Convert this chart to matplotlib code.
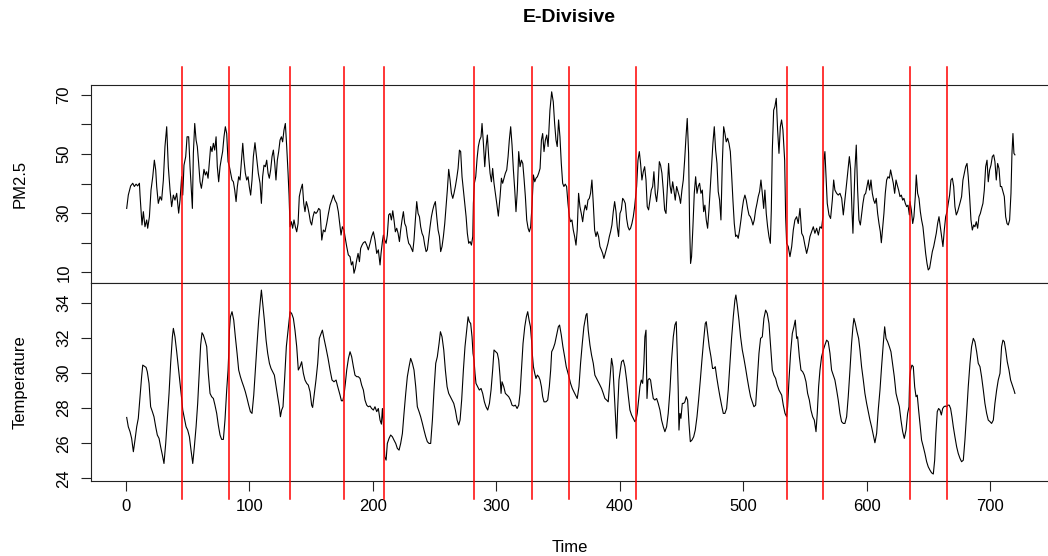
import matplotlib
matplotlib.use("Agg")
import matplotlib.pyplot as plt
import matplotlib.transforms as mtransforms
from matplotlib.lines import Line2D

# PM2.5 readings (time, value)
pm_a = [(0.8,31.6),(2.1,36.1),(4.0,39.2),(5.7,40.1),(7.0,39.0),(8.4,39.8),(9.7,39.2),(11.1,40.1),(11.6,36.1),(12.4,31.1),
        (13.2,26.0),(14.3,30.5),(15.6,25.4),(17.0,27.7),(17.8,24.9),(19.2,28.8),(20.5,37.8),(21.9,42.3),(23.2,47.9),(24.3,44.6),
        (25.1,39.0),(26.4,33.3),(27.8,35.6),(29.1,34.4),(30.5,41.2),(31.8,52.5),(33.2,59.2),(34.5,45.7),(35.9,37.8),(37.2,32.2),
        (38.6,36.1),(39.9,34.4),(41.3,36.7),(42.9,30.0),(44.0,34.4),(45.3,42.3),(46.2,36.1),(47.2,46.2),(48.6,49.1),(49.7,55.8),
        (51.0,55.8),(52.1,45.7),(53.2,37.8),(54.0,31.6),(54.8,50.2),(55.9,60.3),(57.0,54.7),(58.0,52.5),(59.1,46.8),(60.2,40.6),
        (61.3,38.4),(62.3,41.2),(63.4,44.8),(64.5,42.9),(65.6,44.0),(66.7,41.8),(67.8,47.4),(68.8,52.5),(69.9,50.8),(71.0,53.6),
        (72.1,51.3),(73.2,55.8),(74.2,45.7),(75.3,40.6),(76.4,45.7),(77.5,48.5),(78.5,50.8),(79.6,55.8),(80.7,59.2),(81.8,56.9),
        (82.9,47.4),(84.0,45.7),(85.0,43.5),(86.1,41.2),(87.2,40.6),(88.3,37.8),(89.4,33.9),(90.4,38.9),(91.5,42.3),(92.6,41.2),
        (93.7,47.4),(94.8,53.6),(95.8,47.9),(96.9,43.5),(98.0,41.2),(99.1,42.3),(100.1,38.9),(101.2,36.1),(102.3,41.2),(103.4,49.1),
        (104.7,53.8),(106.1,48.5),(107.4,43.5),(108.8,40.1),(109.9,33.3),(110.9,42.3),(112.0,46.2),(113.1,45.7),(114.2,47.9),(115.3,43.5),
        (116.3,41.8),(117.4,44.6),(118.5,49.1),(119.6,51.3),(120.7,46.8),(121.7,41.2),(122.8,47.9),(123.9,50.8),(125.0,54.7),(126.1,55.8),
        (127.1,54.1),(128.2,58.1),(129.3,60.3),(130.4,52.5),(131.5,43.5),(132.3,36.1),(133.1,25.4),(134.2,27.1),(135.2,24.9),(136.3,27.7),
        (137.4,25.4),(138.5,23.7),(139.6,26.5),(140.6,35.6),(141.7,37.8),(143.1,39.8),(144.2,33.3),(145.2,30.5),(146.3,33.9),(147.4,32.2),
        (148.5,29.9),(149.6,27.1),(150.6,26.0),(151.7,28.8),(152.8,30.5),(154.1,29.9),(155.2,30.5),(156.3,31.6)]
pm_b = [(157.4,31.1),(158.8,20.9),(160.1,24.3),(161.4,23.7),(162.8,26.5),(164.2,29.9),(165.5,32.7),(166.9,34.4),(168.2,36.1),(169.5,34.4),
        (170.9,33.3),(172.2,30.5),(173.6,25.4),(174.4,22.6),(175.5,25.4),(176.8,24.3),(177.6,22.1),(179.0,18.7),(180.3,15.9),(181.7,15.3),
        (182.8,12.5),(183.9,13.6),(184.9,9.7),(186.0,11.4),(187.1,14.2),(188.2,16.4),(189.3,13.6),(190.3,18.1),(191.4,19.2),(192.5,20.0),
        (193.9,20.4),(195.2,19.2),(196.5,17.6),(197.9,19.8),(199.2,22.1),(200.6,23.7),(201.9,20.9),(203.3,16.4),(204.6,17.6),(206.0,12.5),
        (206.8,16.4),(207.9,20.4),(208.7,22.6),(209.8,20.9),(210.9,19.8),(211.9,22.6),(213.0,29.4),(214.1,29.9),(215.2,27.7),(216.3,30.8),
        (217.3,27.7),(218.4,23.7),(219.5,24.9),(220.6,23.2),(221.7,20.4),(222.7,24.3),(223.8,27.7),(224.9,30.5),(226.0,26.5),(227.1,25.4),
        (228.1,22.1),(229.2,19.8),(230.3,19.2),(231.4,18.1),(232.5,17.0),(233.5,20.9),(234.6,27.7),(235.7,33.9),(236.8,29.9),(237.9,28.8),
        (238.9,25.4),(240.0,23.2),(241.1,22.1),(242.2,19.2),(243.3,17.0),(244.3,17.6),(245.4,21.5),(246.5,25.4),(247.6,28.8),(248.7,31.1),
        (249.7,32.7),(250.8,33.9),(251.9,28.8),(253.0,24.3),(254.1,22.1),(255.1,17.0),(256.2,18.7),(257.3,22.1),(258.4,26.5),(259.5,32.2),
        (260.5,37.8),(261.6,44.8),(262.7,41.2),(263.8,36.7),(264.9,35.0),(265.9,36.7),(267.0,39.0),(268.1,41.8),(269.2,45.1),(270.3,51.3),
        (271.3,50.8),(272.4,42.3),(273.5,37.8),(274.6,33.3),(275.7,28.8),(276.7,23.2),(277.8,19.8),(278.9,20.4),(280.0,19.2),(281.1,22.1),
        (281.6,33.3),(282.4,40.1),(283.5,42.3),(284.6,48.5),(285.6,52.5),(286.7,54.7),(287.8,55.8),(288.6,60.3),(289.7,53.6),(290.8,45.7),
        (291.9,52.5),(292.9,56.4),(294.0,49.1),(295.1,43.5),(296.2,40.6),(297.2,45.1),(298.3,40.1),(299.4,36.7),(300.5,33.3),(301.8,29.0),
        (303.2,35.6),(304.3,41.8),(305.3,40.1),(306.4,41.8),(307.5,43.5),(308.6,44.6),(309.7,49.1),(310.7,54.7),(311.8,59.2),(312.9,53.0),
        (314.0,44.6),(315.1,37.8),(316.1,30.5),(317.2,37.8),(318.3,50.8),(319.4,45.7),(320.5,47.9),(321.6,46.8),(322.6,41.8),(323.7,35.6),
        (324.8,27.7),(325.9,24.9),(326.9,23.7),(328.0,25.4),(329.1,32.7),(330.2,42.9),(331.3,40.6),(332.3,41.8),(333.4,42.3),(334.5,43.5),
        (335.6,45.1),(336.7,54.7),(337.7,56.9),(338.8,50.8),(339.9,54.7),(341.0,56.4),(342.1,52.5)]
pm_c = [(343.6,64.8),(345.0,71.0),(346.3,67.6),(347.4,60.3),(348.5,54.7),(349.5,52.5),(350.6,61.5),(351.7,55.8),(352.8,46.8),(353.9,40.1),
        (354.9,39.0),(356.0,39.8),(357.1,39.0),(358.2,33.3),(359.3,28.8),(360.3,27.1),(361.4,27.7),(362.5,24.3),(363.6,22.1),(364.7,19.2),
        (365.7,24.3),(366.8,36.7),(367.9,32.2),(369.0,29.9),(370.1,27.1),(371.1,30.5),(372.2,32.7),(373.3,31.1),(374.4,34.4),(375.5,35.0),
        (376.5,36.7),(377.6,41.2),(378.7,33.3),(379.8,24.3),(380.9,22.1),(381.9,23.7),(383.0,22.1),(384.1,18.7),(385.2,17.6),(386.3,16.4),
        (387.3,14.7),(388.4,16.4),(389.5,18.1),(390.6,19.8),(391.7,22.1),(392.7,23.7),(393.8,26.0),(394.9,30.5),(396.0,33.9),(397.1,30.5),
        (398.1,25.4),(399.2,22.1),(400.3,29.9),(401.4,31.1),(402.5,35.0),(403.5,34.4),(404.6,33.3),(405.7,28.2),(406.8,25.4),(407.9,24.3),
        (408.9,24.9),(410.0,26.5),(411.1,28.8),(412.2,32.2),(413.0,35.6),(413.8,39.0),(414.9,47.9),(416.0,50.8),(417.0,46.8),(418.1,41.2),
        (419.2,44.0),(420.3,45.7),(421.4,41.2),(422.4,32.2),(423.5,31.1),(424.6,34.4),(425.7,37.8),(426.8,39.0),(427.8,44.0),(428.9,36.7),
        (430.0,33.9),(431.1,38.4),(432.2,47.4),(433.2,46.2),(434.3,43.5),(435.4,37.8),(436.5,31.1),(437.6,29.9),(438.6,37.8),(439.7,46.8),
        (440.8,39.5),(441.9,36.7),(443.0,40.6),(444.0,37.8),(445.1,34.4),(446.2,39.0),(447.3,37.3),(448.4,35.6),(449.4,33.3),(450.5,37.8),
        (451.6,41.2),(452.7,47.9),(453.8,55.8),(454.8,62.0),(455.9,50.2),(456.7,26.5),(457.5,13.0),(458.3,15.3),(459.4,25.4),(460.5,36.7),
        (461.6,42.3),(462.7,36.7),(463.7,39.0),(464.8,40.1),(465.9,36.7),(467.0,37.8),(468.1,30.5),(469.1,32.7),(470.2,27.7),(471.3,24.9),
        (472.4,31.1),(473.5,39.0),(474.5,46.8),(475.6,53.6),(476.7,59.2),(477.8,51.3),(478.9,46.8),(479.9,37.3),(481.0,34.4),(482.1,27.7),
        (483.2,46.8),(484.3,59.2),(485.3,57.0),(486.4,54.1),(487.5,55.3),(488.6,53.6),(489.7,50.8),(490.7,43.5),(491.8,34.4),(492.9,26.5),
        (494.0,22.1),(495.0,22.6),(496.1,21.5),(497.2,24.3),(498.3,27.7),(499.4,31.6),(500.4,34.4),(501.5,36.1),(502.6,34.4),(503.7,31.6),
        (504.8,29.4),(505.9,28.8),(506.9,27.7),(508.0,26.0),(509.1,27.7),(510.2,31.1),(511.3,33.3),(512.3,35.6),(513.4,37.3),(514.5,41.2),
        (515.6,36.7),(516.7,31.6),(517.7,37.8),(518.8,29.9),(519.9,25.4),(521.0,22.1),(522.1,19.8),(522.9,31.1),(523.7,51.3),(524.8,64.8),
        (525.8,66.0),(526.9,68.8),(528.0,58.1),(529.1,50.2),(530.2,59.2),(531.2,61.5),(532.3,58.1)]
pm_d = [(533.7,47.9),(534.5,28.8),(535.3,19.8),(536.6,18.7),(538.0,15.3),(539.4,18.7),(540.7,24.3),(542.0,27.7),(543.4,28.8),(544.7,26.5),
        (546.1,31.6),(547.5,23.2),(548.8,22.1),(550.1,19.2),(551.5,16.4),(552.8,18.7),(554.2,22.1),(555.5,23.7),(556.9,25.4),(558.2,23.2),
        (559.6,24.9),(561.0,22.6),(562.3,25.4),(563.6,24.9),(564.7,28.8),(565.5,47.9),(566.3,50.8),(567.2,42.3),(568.2,33.3),(569.6,29.4),
        (570.9,28.2),(572.3,34.4),(573.4,41.2),(574.4,37.8),(575.8,36.7),(577.1,36.1),(578.5,36.7),(579.9,35.0),(581.2,29.4),(582.5,34.4),
        (583.9,40.1),(585.0,44.6),(586.1,49.1),(587.1,45.1),(588.2,31.1),(589.0,23.2),(589.8,34.4),(590.6,44.6),(591.7,53.0),(592.8,37.8),
        (593.9,27.7),(595.0,26.0),(596.0,29.4),(597.1,33.3),(598.2,36.1),(599.3,36.7),(600.4,39.0),(601.4,41.2),(602.5,37.8),(603.6,41.2),
        (604.7,36.7),(605.8,34.4),(606.8,33.3),(607.9,35.0),(609.0,29.9),(610.1,26.5),(611.2,23.7),(612.0,20.0),(613.1,25.4),(614.1,29.9),
        (615.2,36.7),(616.3,41.2),(617.4,42.3),(618.5,41.8),(619.5,44.6),(620.6,42.3),(621.7,40.1),(622.8,36.7),(623.9,41.2),(624.9,39.5),
        (626.0,37.8),(627.1,35.6),(628.2,36.1),(629.3,34.4),(630.3,35.0),(631.4,33.3),(632.5,32.2),(633.6,32.7),(634.7,29.4),(635.2,33.9),
        (636.3,31.1),(637.4,26.5),(638.4,28.8),(639.5,35.6),(640.3,42.9),(641.4,36.7),(642.5,35.0),(643.6,30.5),(644.6,27.7),(645.7,25.4),
        (646.8,20.9),(647.9,16.4),(649.0,13.0),(650.0,10.8),(651.1,11.4),(652.2,14.2),(653.3,17.0),(654.4,18.7),(655.4,20.9),(656.5,23.2),
        (657.6,26.5),(658.7,28.8),(659.8,25.4),(660.8,22.1),(661.9,18.7),(663.0,24.3),(664.1,28.8),(665.2,30.5),(666.2,33.3),(667.3,36.1),
        (668.4,41.2),(669.5,41.8),(670.6,39.0),(671.6,32.2),(672.7,29.4),(673.8,30.5),(674.9,32.2),(676.0,33.9),(677.0,35.6),(678.1,41.2),
        (679.2,43.5),(680.3,45.7),(681.4,46.8),(682.4,42.3),(683.5,35.6),(684.6,27.7),(685.7,24.3),(686.8,26.0),(687.8,25.4),(688.9,27.1),
        (690.0,24.9),(691.1,28.8),(692.2,29.9),(693.2,31.6),(694.3,33.3),(695.4,37.8),(696.5,45.7),(697.6,47.9),(698.6,40.6),(699.7,44.6),
        (700.8,46.2),(701.9,49.1),(703.0,49.7),(704.0,47.4),(705.1,41.2),(706.2,46.8),(707.3,45.1),(708.4,39.0),(709.4,39.0),(710.5,37.3),
        (711.6,35.6),(712.7,28.8),(713.8,26.5),(714.8,26.0),(715.9,27.7),(717.0,36.7),(717.8,50.2),(718.6,56.9),(719.4,50.2),(720.2,49.7)]

# Temperature readings (time, value)
temp_a = [(0.8,27.47),(2.1,26.94),(3.5,26.66),(4.8,26.28),(6.2,25.52),(7.5,26.18),(8.9,26.94),(10.2,27.42),(11.6,28.65),(12.9,29.79),
          (13.8,30.45),(15.1,30.39),(16.5,30.32),(17.5,30.07),(18.9,29.41),(20.2,28.08),(21.6,27.80),(22.9,27.51),(24.3,26.94),(25.6,26.47),
          (27.0,26.28),(28.3,25.80),(29.7,25.33),(31.0,24.85),(32.4,25.99),(33.7,27.32),(35.1,28.84),(36.4,30.55),(37.8,32.06),(38.6,32.54),
          (39.9,32.06),(41.3,31.21),(42.6,30.36),(44.0,29.41),(45.3,28.55),(46.2,27.89),(47.5,27.42),(48.9,26.94),(50.2,26.75),(51.6,26.37),
          (52.9,25.61),(54.3,24.85),(55.6,25.80),(57.0,26.94),(58.3,28.27),(59.7,30.17),(60.7,31.59),(61.8,32.29),(62.9,32.16),(64.2,31.87),
          (65.6,31.50),(66.9,29.98),(68.3,28.84),(69.6,28.65),(71.0,28.55),(72.3,28.17),(73.7,27.70),(75.0,27.04),(76.4,26.47),(77.7,26.22),
          (79.1,26.22),(80.4,27.32),(81.8,29.03),(82.9,30.17),(83.4,31.02),(84.0,32.44),(84.8,33.20),(86.1,33.49),(87.5,33.01),(88.8,32.06),
          (90.2,31.12),(91.5,30.17),(92.9,29.79),(94.2,29.50),(95.6,29.22),(96.9,28.93),(98.3,28.55),(99.6,28.17),(101.0,27.80),(102.3,27.70),
          (103.7,28.74),(105.0,30.17),(106.4,31.68),(107.7,33.01),(109.1,34.15),(109.9,34.72),(111.0,33.96),(112.3,33.01),(113.7,31.87),(115.0,31.12),
          (116.4,30.55),(117.7,30.26),(119.1,30.07),(120.4,29.88),(121.8,29.22),(123.1,28.65),(124.4,28.08),(125.3,27.51),(126.3,27.89),(127.4,28.08),
          (128.8,29.79),(130.1,31.50),(131.5,32.44),(132.3,33.01),(133.1,33.49),(134.4,33.39),(135.8,33.11),(137.1,32.44),(138.5,31.50),(139.8,30.17),
          (141.2,30.36),(142.5,30.64),(143.9,29.98),(145.2,29.60),(146.6,29.41),(147.9,29.31),(149.3,28.93),(150.6,28.17),(151.4,28.04),(152.8,28.84),
          (154.1,29.60),(155.5,30.55),(156.8,31.97)]
temp_b = [(159.3,32.44),(160.6,31.97),(162.3,31.40),(163.9,30.83),(165.5,30.17),(167.1,29.60),(168.7,29.50),(170.4,29.60),(171.4,29.31),(172.5,29.03),
          (173.6,28.74),(174.7,28.42),(175.8,28.42),(176.8,28.74),(177.9,29.41),(179.0,30.17),(180.4,30.83),(181.7,31.21),(183.0,30.93),(184.4,30.36),
          (185.7,29.88),(187.1,29.79),(188.4,29.79),(189.8,29.69),(191.1,29.31),(192.5,29.03),(193.8,28.46),(195.2,28.17),(196.5,28.08),(197.9,28.12),
          (199.2,27.98),(200.6,27.89),(201.9,28.08),(203.3,27.80),(204.6,27.98),(206.0,27.32),(207.1,27.09),(207.9,27.98),(208.7,27.13),(209.8,25.23),
          (210.9,25.04),(211.9,25.99),(213.3,26.28),(214.6,26.47),(216.0,26.37),(217.3,26.18),(218.7,25.99),(220.0,25.71),(221.4,25.61),(222.7,25.99),
          (224.1,26.56),(225.4,27.70),(226.8,28.84),(228.1,29.79),(229.5,30.36),(230.8,30.83),(232.2,30.55),(233.5,30.17),(234.9,29.22),(236.2,28.08),
          (237.6,27.80),(238.9,27.51),(240.3,27.13),(241.6,26.75),(243.0,26.37),(244.3,26.09),(245.7,25.99),(247.0,25.99),(248.4,27.32),(249.7,29.03),
          (251.1,30.55),(252.4,30.93),(253.8,31.68),(254.9,32.35),(256.2,32.06),(257.6,31.31),(258.9,30.17),(260.3,29.22),(261.6,28.84),(263.0,28.65),
          (264.3,28.46),(265.7,28.27),(267.0,27.89),(268.4,27.32),(269.7,27.04),(270.8,27.32),(272.1,28.46),(273.5,30.17),(274.8,31.50),(276.2,32.44),
          (277.3,33.20),(278.3,32.92),(279.4,32.82),(280.5,32.06),(281.3,31.12),(282.1,30.74),(282.9,29.98),(283.7,29.41),(285.1,29.22),(286.4,29.03),
          (287.8,29.12),(289.1,28.84),(290.5,28.36),(291.8,28.08),(293.2,27.89),(294.6,28.27),(295.9,29.03),(297.2,30.17),(298.3,31.31),(299.7,31.21),
          (301.0,31.12),(302.1,30.74),(303.2,29.79),(304.0,28.84),(304.8,29.50),(306.2,29.22),(307.5,28.84),(308.9,28.74),(310.2,28.65),(311.6,28.46),
          (312.9,28.17),(314.3,28.12),(315.6,28.17),(317.0,27.98),(318.3,28.17),(319.4,28.84),(320.5,30.17),(321.8,31.68),(323.2,32.63),(324.5,33.20),
          (325.6,33.49),(326.7,33.01),(327.8,32.63),(328.8,31.78),(329.4,31.02),(330.2,30.36),(331.3,29.98),(332.3,29.69),(333.4,29.88),(334.5,29.79),
          (335.6,29.60),(336.7,29.22),(337.7,28.65),(338.8,28.36),(340.4,28.36),(341.8,28.46),(343.1,29.22),(344.2,30.17)]
temp_c = [(345.0,31.21),(346.3,31.40),(347.6,31.68),(349.0,32.16),(350.4,32.63),(351.4,32.73),(352.8,32.16),(354.1,31.50),(355.5,30.93),(356.8,30.36),
          (357.9,30.07),(359.0,29.79),(360.3,29.41),(361.7,29.12),(363.0,28.93),(364.4,28.74),(365.7,28.55),(367.1,29.22),(368.4,30.55),(369.8,31.68),
          (371.1,32.63),(372.8,33.30),(373.6,33.39),(374.6,32.44),(376.0,31.59),(377.3,31.02),(378.7,30.55),(380.0,29.88),(381.4,29.69),(382.7,29.50),
          (384.1,29.31),(385.4,29.12),(386.8,28.84),(388.1,28.55),(389.5,28.46),(390.8,28.36),(392.2,29.60),(393.5,30.83),(394.6,30.36),(395.7,28.84),
          (396.8,27.32),(397.6,26.28),(398.4,27.89),(399.5,29.60),(400.6,30.17),(401.6,30.64),(403.0,30.74),(404.3,30.36),(405.7,29.60),(407.0,28.74),
          (408.4,27.89),(409.7,27.61),(411.1,27.42),(412.4,27.23),(413.3,27.32),(414.3,27.70),(415.4,28.46),(416.5,29.22),(417.6,29.60),(418.7,29.41),
          (419.7,30.55),(420.5,32.06),(421.4,32.44),(422.2,28.55),(423.0,29.60),(424.1,29.69),(425.1,29.60),(426.2,29.03),(427.3,28.55),(428.6,28.46),
          (430.0,28.55),(431.3,28.27),(432.7,27.89),(434.0,27.32),(435.4,26.94),(436.7,26.66),(438.1,26.94),(439.4,27.70),(440.8,29.03),(442.1,30.74),
          (443.5,32.06),(444.8,32.73),(445.9,32.92),(446.7,31.12),(447.5,29.03),(448.1,26.75),(448.9,27.70),(449.7,27.42),(450.8,28.27),(451.9,28.27),
          (452.9,28.36),(454.0,28.65),(455.1,28.46),(456.2,27.13),(457.3,26.09),(458.6,26.18),(460.0,26.37),(461.3,26.75),(462.7,27.51),(464.0,28.46),
          (465.4,29.60),(466.7,30.74),(468.1,31.87),(469.4,32.82),(470.2,32.92),(471.3,32.25),(472.6,31.50),(474.0,30.93),(475.3,30.26),(476.4,30.26),
          (477.5,30.36),(478.6,29.79),(479.9,29.22),(481.3,28.65),(482.6,28.17),(484.0,27.70),(485.3,27.70),(486.7,27.98),(488.0,29.03),(489.4,30.55),
          (490.7,31.97),(492.1,33.20),(493.4,34.15),(494.2,34.44),(495.3,33.87),(496.7,33.01),(498.0,32.06),(499.4,31.31),(500.7,30.83),(502.1,30.26),
          (503.4,29.69),(504.8,29.12),(506.1,28.65),(507.5,28.36),(508.8,28.08),(510.2,28.17),(511.5,29.60),(512.9,31.12),(514.2,31.97),(515.6,32.06),
          (516.9,33.11),(518.3,33.58),(519.6,33.39),(521.0,32.82),(522.3,31.50),(523.7,30.17),(525.0,29.88),(526.4,29.69),(527.7,29.31),(529.1,29.03)]
temp_d = [(531.3,28.74),(532.6,28.17),(534.0,27.70),(535.3,27.51),(536.1,28.08),(537.2,29.60),(538.5,31.12),(539.9,32.25),(541.2,32.63),(542.3,33.01),
          (543.4,31.97),(544.2,32.06),(545.6,30.93),(546.9,30.17),(548.3,30.07),(549.6,29.88),(551.0,29.50),(552.3,28.84),(553.7,28.46),(555.0,27.89),
          (556.4,27.51),(557.7,27.32),(559.1,26.66),(560.1,27.70),(561.2,29.22),(562.3,30.17),(563.6,30.93),(565.0,31.31),(566.3,31.59),(567.7,31.87),
          (569.0,31.78),(570.4,31.12),(571.7,30.17),(573.1,29.88),(574.4,29.60),(575.8,29.03),(577.1,28.46),(578.5,27.70),(579.8,27.23),(581.2,27.13),
          (582.5,27.13),(583.9,27.51),(585.2,28.65),(586.6,30.17),(587.9,31.68),(589.0,32.63),(589.8,33.11),(590.9,32.82),(592.3,32.35),(593.6,31.97),
          (594.7,31.31),(596.0,30.36),(597.4,29.60),(598.7,28.84),(600.1,28.27),(601.4,27.80),(602.8,27.32),(604.1,26.94),(605.5,26.47),(606.8,26.03),
          (608.2,26.56),(609.5,27.89),(610.9,29.03),(612.2,30.36),(613.6,31.68),(614.7,32.63),(615.8,31.97),(617.1,31.78),(618.5,31.50),(619.8,31.21),
          (621.2,30.45),(622.5,29.79),(623.9,28.84),(625.2,28.46),(626.6,28.08),(627.9,27.32),(629.3,26.66),(630.6,26.28),(632.0,26.75),(633.3,27.70),
          (634.4,28.08),(634.9,29.60),(635.7,30.17),(636.8,30.45),(637.9,30.36),(639.0,29.22),(640.1,28.65),(641.1,28.74),(642.2,27.89),(643.3,27.13),
          (644.6,26.18),(646.0,25.80),(647.3,25.42),(648.7,24.95),(650.0,24.66),(651.4,24.47),(652.7,24.32),(654.1,24.25),(655.2,25.04),(656.2,26.56),
          (657.3,27.80),(658.4,27.98),(659.5,27.89),(660.6,27.61),(661.7,27.98),(662.7,28.08),(663.8,28.12),(664.9,28.08),(666.0,28.17),(667.0,28.17),
          (668.1,27.98),(669.2,27.51),(670.3,26.94),(671.6,26.37),(673.0,25.80),(674.3,25.42),(675.7,25.14),(677.0,24.95),(678.4,25.04),(679.7,26.18),
          (681.1,27.70),(682.4,29.22),(683.8,30.55),(685.1,31.50),(686.5,31.97),(687.8,31.78),(689.2,31.21),(690.5,30.55),(691.9,30.36),(693.2,29.79),
          (694.6,29.03),(695.9,28.27),(697.3,27.70),(698.6,27.32),(700.0,27.23),(701.3,27.13),(702.7,27.32),(704.0,28.27),(705.4,29.03),(706.7,29.60),
          (708.1,29.98),(709.4,31.50),(710.5,31.87),(711.6,31.78),(712.7,31.31),(714.0,30.64),(715.4,30.17),(716.7,29.60),(718.1,29.31),(719.4,29.03),
          (720.2,28.84)]

change_points = [46, 84, 133, 177, 209, 282, 329, 359, 413, 536, 565, 635, 665]

pm_ticks = [10, 20, 30, 40, 50, 60, 70]
pm_labels = ["10", "", "30", "", "50", "", "70"]
temp_ticks = [24, 26, 28, 30, 32, 34]
time_ticks = [0, 100, 200, 300, 400, 500, 600, 700]

plt.rcParams['font.family'] = ['Liberation Sans', 'DejaVu Sans']

W, H = 1048, 556
fig = plt.figure(figsize=(W / 100, H / 100), dpi=100)
left = 90.7 / W
width = (1049 - 90.7) / W
ax1 = fig.add_axes([left, 1 - 282.7 / H, width, 197.7 / H])
ax2 = fig.add_axes([left, 1 - 480.7 / H, width, 198.0 / H])

pm = pm_a + pm_b + pm_c + pm_d
temp = temp_a + temp_b + temp_c + temp_d
ax1.plot([p[0] for p in pm], [p[1] for p in pm], color="black", lw=0.8)
ax2.plot([p[0] for p in temp], [p[1] for p in temp], color="black", lw=0.8)

for ax in (ax1, ax2):
    ax.set_xlim(-28.35, 747.8)
    for s in ax.spines.values():
        s.set_linewidth(0.8)
        s.set_color("#222222")
    ax.tick_params(axis="both", length=7, width=0.8, labelsize=12, color="#222222")

ax1.set_ylim(6.5, 73.3)
ax2.set_ylim(23.87, 35.14)
ax1.set_xticks([])
ax2.set_xticks(time_ticks)
ax2.tick_params(axis="x", pad=6)

ax1.set_yticks(pm_ticks)
ax1.set_yticklabels(pm_labels)
ax2.set_yticks(temp_ticks)
for ax in (ax1, ax2):
    ax.tick_params(axis="y", pad=7)
    for lab in ax.get_yticklabels():
        lab.set_rotation(90)
        lab.set_va("center")

# change point lines, drawn across both panels
trans = mtransforms.blended_transform_factory(ax2.transData, fig.transFigure)
for cp in change_points:
    fig.add_artist(Line2D([cp, cp], [1 - 499 / H, 1 - 67 / H], transform=trans,
                          color="red", lw=1.1, clip_on=False, zorder=5))

fig.text(569.5 / W, 1 - 18 / H, "E-Divisive", ha="center", va="center",
         fontsize=14, fontweight="bold")
fig.text(20 / W, 1 - 183.9 / H, "PM2.5", rotation=90, ha="center", va="center", fontsize=12)
fig.text(20 / W, 1 - 381.7 / H, "Temperature", rotation=90, ha="center", va="center", fontsize=12)
fig.text(570 / W, 1 - 547 / H, "Time", ha="center", va="center", fontsize=12)

fig.savefig("out.png", dpi=100)
